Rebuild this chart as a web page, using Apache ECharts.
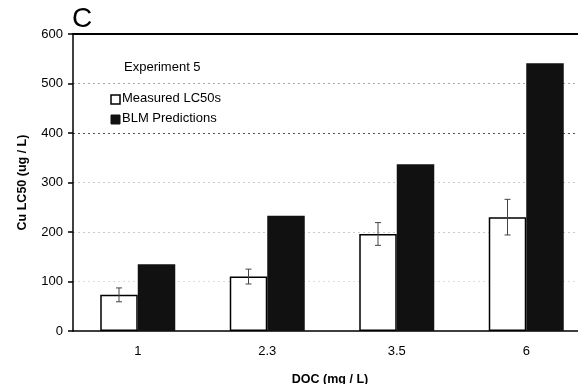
<!DOCTYPE html>
<html><head><meta charset="utf-8">
<script src="https://cdn.jsdelivr.net/npm/echarts@6/dist/echarts.min.js"></script>
<style>html,body{margin:0;padding:0;background:#fff}#c{width:578px;height:384px}</style>
</head><body><div id="c"></div>
<script>
const categories = ['1', '2.3', '3.5', '6'];
const measured = [73, 110, 196, 230];
const measuredErr = [14, 15, 23, 36];
const blm = [135, 233, 337, 541];
const yTicks = [0, 100, 200, 300, 400, 500, 600];

const chart = echarts.init(document.getElementById('c'));
const font = 'Liberation Sans, Arial, sans-serif';
const BW = 37.5;
chart.setOption({
  animation: false,
  backgroundColor: '#fff',
  grid: { left: 73, top: 34, width: 518, height: 297, outerBoundsMode: 'none', containLabel: false },
  graphic: [
    { type: 'text', left: 72, top: 5, style: { text: 'C', font: '28px ' + font, fill: '#000' } },
    { type: 'text', left: 124, top: 61, style: { text: 'Experiment 5', font: '13px ' + font, fill: '#000' } },
    { type: 'rect', shape: { x: 111, y: 95, width: 9, height: 9 }, style: { fill: '#fff', stroke: '#000', lineWidth: 1.5 } },
    { type: 'text', left: 122, top: 92, style: { text: 'Measured LC50s', font: '13px ' + font, fill: '#000' } },
    { type: 'rect', shape: { x: 111, y: 115, width: 9, height: 9 }, style: { fill: '#111', stroke: '#111', lineWidth: 1 } },
    { type: 'text', left: 122, top: 112, style: { text: 'BLM Predictions', font: '13px ' + font, fill: '#000' } }
  ],
  xAxis: [{
    type: 'category', data: categories, position: 'bottom',
    axisLine: { lineStyle: { color: '#000', width: 1.5 } },
    axisTick: { show: false },
    axisLabel: { color: '#000', fontFamily: font, fontSize: 13, margin: 14 },
    name: 'DOC (mg / L)', nameLocation: 'middle', nameGap: 42,
    nameTextStyle: { color: '#000', fontFamily: font, fontSize: 12.5, fontWeight: 'bold', padding: [0, 0, 0, -4] }
  }, {
    type: 'category', data: categories, position: 'top',
    axisLine: { lineStyle: { color: '#000', width: 2 } },
    axisTick: { show: false }, axisLabel: { show: false }
  }],
  yAxis: {
    type: 'value', min: 0, max: 600, interval: 100,
    axisLine: { show: true, lineStyle: { color: '#000', width: 1.5 } },
    axisTick: { show: true, length: 5, lineStyle: { color: '#000', width: 1.5 } },
    axisLabel: { color: '#000', fontFamily: font, fontSize: 13, margin: 10, formatter: v => yTicks.includes(v) ? String(v) : '' },
    splitLine: { show: true, lineStyle: { type: [2, 3], width: 1, color: ['rgba(0,0,0,0)', '#ddd', '#ccc', '#ccc', '#555', '#aaa', 'rgba(0,0,0,0)'] } },
    name: 'Cu LC50 (ug / L)', nameLocation: 'middle', nameGap: 44, nameRotate: 90,
    nameTextStyle: { color: '#000', fontFamily: font, fontSize: 12.5, fontWeight: 'bold' }
  },
  series: [{
    name: 'Measured LC50s', type: 'bar', data: measured, barWidth: BW, barGap: '0%',
    itemStyle: { color: '#fff', borderColor: '#000', borderWidth: 1.5 }
  }, {
    name: 'BLM Predictions', type: 'bar', data: blm, barWidth: BW, barGap: '0%',
    itemStyle: { color: '#111' }
  }, {
    type: 'custom', z: 10,
    data: measured.map((v, i) => [i, v - measuredErr[i], v + measuredErr[i]]),
    renderItem: (params, api) => {
      const lo = api.coord([api.value(0), api.value(1)]);
      const hi = api.coord([api.value(0), api.value(2)]);
      const x = lo[0] - BW / 2;
      const c = 3;
      const st = { stroke: '#444', lineWidth: 1 };
      return { type: 'group', children: [
        { type: 'line', shape: { x1: x, y1: lo[1], x2: x, y2: hi[1] }, style: st },
        { type: 'line', shape: { x1: x - c, y1: lo[1], x2: x + c, y2: lo[1] }, style: st },
        { type: 'line', shape: { x1: x - c, y1: hi[1], x2: x + c, y2: hi[1] }, style: st }
      ] };
    }
  }]
});
</script></body></html>
